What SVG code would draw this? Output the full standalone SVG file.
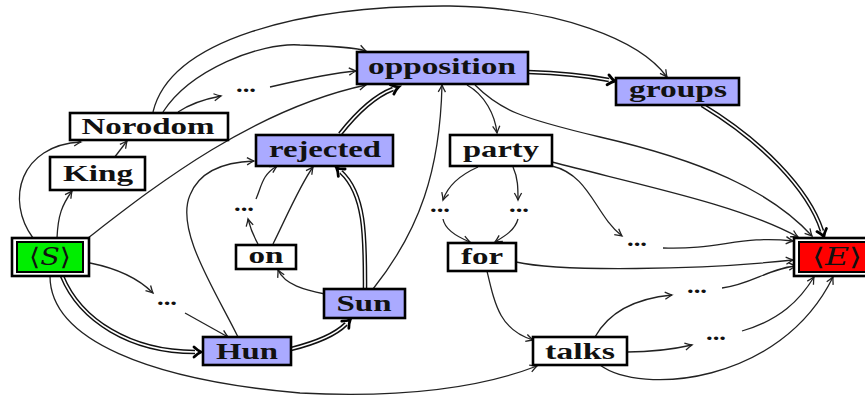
<svg xmlns="http://www.w3.org/2000/svg" width="865" height="396" viewBox="0 0 865 396">
<style>
.e{fill:none;stroke:#222;stroke-width:1.3;marker-end:url(#a)}
.d{fill:none;stroke:#111;stroke-width:4.6;marker-end:url(#t)}
.dw{fill:none;stroke:#fff;stroke-width:1.7}
.box{stroke:#000;stroke-width:2.6}
.w{fill:#fff}
.b{fill:#aaaaff}
.lbl{font-family:"Liberation Serif","Times New Roman",serif;font-weight:bold;font-size:24px;fill:#111;text-anchor:middle}
.dots{font-family:"Liberation Serif",serif;font-weight:bold;font-size:22px;fill:#111;text-anchor:middle}
.math{font-family:"DejaVu Serif","Liberation Serif",serif;font-size:24px;fill:#111;text-anchor:middle}
</style>
<defs>
<marker id="a" viewBox="-10 -6 12 12" markerWidth="12" markerHeight="12" refX="0" refY="0" orient="auto" markerUnits="userSpaceOnUse">
<path d="M -7 -3.6 Q -2.5 -1 0 0 Q -2.5 1 -7 3.6" fill="none" stroke="#222" stroke-width="1.3"/>
</marker>
<marker id="t" viewBox="-6 -8 16 16" markerWidth="16" markerHeight="16" refX="0" refY="0" orient="auto" markerUnits="userSpaceOnUse">
<path d="M -1 -5 Q 3 -1.2 6 0 Q 3 1.2 -1 5" fill="none" stroke="#000" stroke-width="2.8" stroke-linecap="round"/>
</marker>
</defs>
<g id="connectors">
<path class="e" d="M 57 238 C 58 215, 62 205, 72 191"/>
<path class="e" d="M 33 238 C 5 200, 20 145, 81 142"/>
<path class="e" d="M 114 158 L 127 141"/>
<path class="e" d="M 153 112 C 170 40, 300 5, 450 6 C 560 8, 640 40, 667 77"/>
<path class="e" d="M 163 112 C 190 70, 260 42, 300 45 C 330 46, 355 47, 366 51"/>
<path class="e" d="M 178 112 C 190 104, 205 99, 221 96"/>
<path class="e" d="M 270 87 C 300 80, 330 73, 356 71"/>
<path class="e" d="M 88 238 C 150 190, 250 110, 366 85"/>
<path class="e" d="M 90 263 C 115 268, 138 278, 153 293"/>
<path class="e" d="M 185 313 L 228 337"/>
<path class="e" d="M 50 276 C 50 340, 150 380, 300 393 C 400 398, 480 388, 537 366"/>
<path class="e" d="M 238 337 C 215 290, 175 230, 190 195 C 200 170, 225 162, 254 161"/>
<path class="e" d="M 325 294 C 305 290, 285 285, 278 270"/>
<path class="e" d="M 258 244 C 253 235, 250 227, 248 219"/>
<path class="e" d="M 256 199 C 262 185, 262 175, 277 166"/>
<path class="e" d="M 273 244 C 285 220, 300 185, 313 167"/>
<path class="e" d="M 373 289 C 420 230, 440 170, 442 85"/>
<path class="e" d="M 467 85 C 485 95, 495 115, 497 133"/>
<path class="e" d="M 475 85 C 500 110, 520 118, 600 137 C 700 160, 770 190, 812 236"/>
<path class="e" d="M 552 162 C 640 185, 740 205, 798 237"/>
<path class="e" d="M 478 167 C 460 175, 448 185, 443 200"/>
<path class="e" d="M 513 167 C 518 178, 518 188, 518 200"/>
<path class="e" d="M 552 166 C 590 175, 595 215, 622 236"/>
<path class="e" d="M 663 248 C 720 250, 740 235, 793 241"/>
<path class="e" d="M 443 219 C 445 230, 460 238, 470 242"/>
<path class="e" d="M 518 219 C 515 230, 505 236, 495 242"/>
<path class="e" d="M 516 262 C 560 272, 700 270, 793 260"/>
<path class="e" d="M 487 271 C 495 305, 500 330, 533 340"/>
<path class="e" d="M 595 337 C 610 310, 640 298, 672 295"/>
<path class="e" d="M 722 288 C 750 285, 770 268, 796 266"/>
<path class="e" d="M 627 352 C 650 352, 670 350, 692 345"/>
<path class="e" d="M 742 331 C 780 320, 800 300, 814 277"/>
<path class="e" d="M 600 365 C 640 395, 780 385, 833 277"/>
<path class="d" d="M 62 276 C 80 320, 130 352, 195 352"/>
<path class="dw" d="M 62 276 C 80 320, 130 352, 195 352"/>
<path class="d" d="M 291 349 C 315 343, 335 335, 346 324"/>
<path class="dw" d="M 291 349 C 315 343, 335 335, 346 324"/>
<path class="d" d="M 365 289 C 365 240, 366 195, 341 172"/>
<path class="dw" d="M 365 289 C 365 240, 366 195, 341 172"/>
<path class="d" d="M 340 134 C 355 115, 372 97, 393 89"/>
<path class="dw" d="M 340 134 C 355 115, 372 97, 393 89"/>
<path class="d" d="M 528 72 C 560 73, 588 76, 609 80"/>
<path class="dw" d="M 528 72 C 560 73, 588 76, 609 80"/>
<path class="d" d="M 702 105 C 760 140, 808 188, 822 231"/>
<path class="dw" d="M 702 105 C 760 140, 808 188, 822 231"/>
</g>
<g id="S">
<rect x="12" y="238" width="77" height="38" class="box w"/>
<rect x="17" y="242" width="66" height="30" fill="#00ee00" stroke="#000" stroke-width="2"/>
<text x="50" y="265" class="math" textLength="42" lengthAdjust="spacingAndGlyphs">⟨<tspan font-style="italic">S</tspan>⟩</text>
</g>
<g id="E">
<rect x="794" y="238" width="76" height="38" class="box w"/>
<rect x="799" y="242" width="70" height="30" fill="#ff0000" stroke="#000" stroke-width="2"/>
<text x="837" y="265" class="math" textLength="50" lengthAdjust="spacingAndGlyphs">⟨<tspan font-style="italic">E</tspan>⟩</text>
</g>
<g id="King"><rect x="50" y="157" width="95" height="33" class="box w"/><text x="98" y="181" class="lbl" textLength="70" lengthAdjust="spacingAndGlyphs">King</text></g>
<g id="Norodom"><rect x="70" y="113" width="158" height="27" class="box w"/><text x="148" y="134" class="lbl" textLength="133" lengthAdjust="spacingAndGlyphs">Norodom</text></g>
<g id="opposition"><rect x="357" y="52" width="171" height="32" class="box b"/><text x="442" y="74" class="lbl" textLength="148" lengthAdjust="spacingAndGlyphs">opposition</text></g>
<g id="groups"><rect x="616" y="78" width="123" height="27" class="box b"/><text x="678" y="97" class="lbl" textLength="98" lengthAdjust="spacingAndGlyphs">groups</text></g>
<g id="rejected"><rect x="256" y="135" width="137" height="31" class="box b"/><text x="325" y="157" class="lbl" textLength="112" lengthAdjust="spacingAndGlyphs">rejected</text></g>
<g id="party"><rect x="450" y="135" width="102" height="31" class="box w"/><text x="501" y="157" class="lbl" textLength="76" lengthAdjust="spacingAndGlyphs">party</text></g>
<g id="on"><rect x="236" y="245" width="60" height="24" class="box w"/><text x="266" y="263" class="lbl" textLength="35" lengthAdjust="spacingAndGlyphs">on</text></g>
<g id="for"><rect x="448" y="243" width="68" height="28" class="box w"/><text x="482" y="264" class="lbl" textLength="42" lengthAdjust="spacingAndGlyphs">for</text></g>
<g id="Sun"><rect x="324" y="289" width="81" height="29" class="box b"/><text x="364" y="311" class="lbl" textLength="55" lengthAdjust="spacingAndGlyphs">Sun</text></g>
<g id="Hun"><rect x="203" y="337" width="88" height="28" class="box b"/><text x="247" y="359" class="lbl" textLength="62" lengthAdjust="spacingAndGlyphs">Hun</text></g>
<g id="talks"><rect x="533" y="337" width="94" height="28" class="box w"/><text x="580" y="359" class="lbl" textLength="70" lengthAdjust="spacingAndGlyphs">talks</text></g>
<g id="dots1"><text x="246" y="92" class="dots" textLength="20" lengthAdjust="spacingAndGlyphs">...</text></g>
<g id="dots2"><text x="244" y="211" class="dots" textLength="20" lengthAdjust="spacingAndGlyphs">...</text></g>
<g id="dots3"><text x="167" y="305" class="dots" textLength="20" lengthAdjust="spacingAndGlyphs">...</text></g>
<g id="dots4"><text x="440" y="212" class="dots" textLength="20" lengthAdjust="spacingAndGlyphs">...</text></g>
<g id="dots5"><text x="519" y="212" class="dots" textLength="20" lengthAdjust="spacingAndGlyphs">...</text></g>
<g id="dots6"><text x="637" y="246" class="dots" textLength="20" lengthAdjust="spacingAndGlyphs">...</text></g>
<g id="dots7"><text x="697" y="293" class="dots" textLength="20" lengthAdjust="spacingAndGlyphs">...</text></g>
<g id="dots8"><text x="716" y="340" class="dots" textLength="20" lengthAdjust="spacingAndGlyphs">...</text></g>
</svg>
